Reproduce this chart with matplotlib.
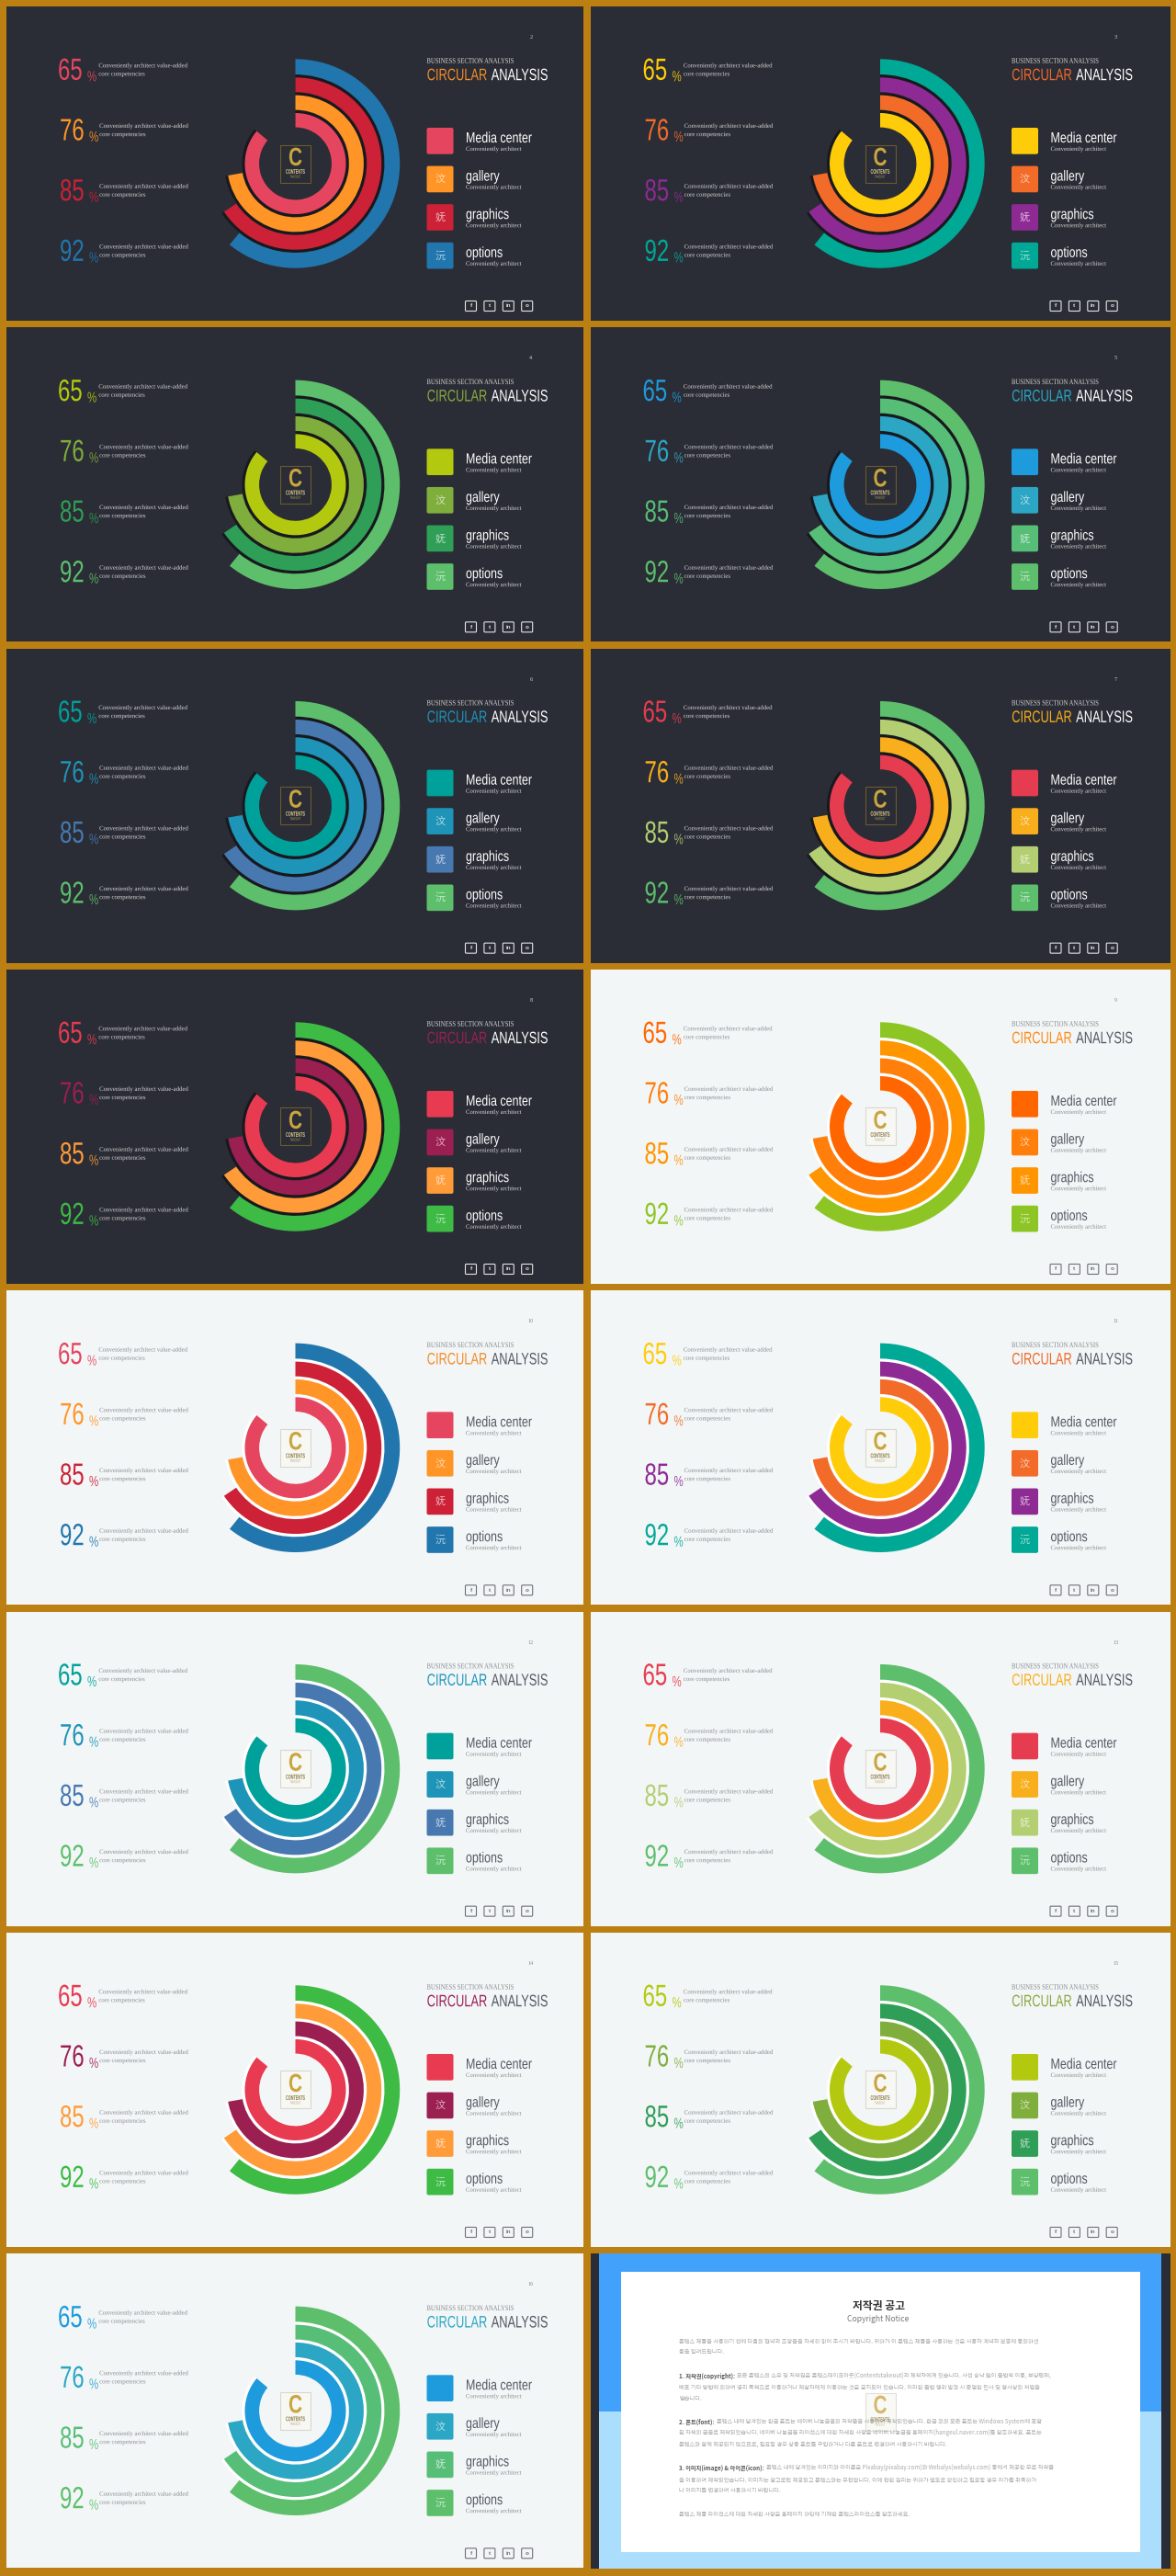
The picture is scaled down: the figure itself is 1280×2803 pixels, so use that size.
import numpy as np
import matplotlib
matplotlib.use('Agg')
import matplotlib.pyplot as plt
from matplotlib.patches import Rectangle, FancyBboxPatch
from matplotlib.patheffects import AbstractPathEffect
from matplotlib.transforms import Affine2D

# chart values
percents = [65, 76, 85, 92]
sweeps = [310, 260, 236, 219]  # degrees clockwise from 12 o'clock, inner ring first
legend_names = ['Media center', 'gallery', 'graphics', 'options']
legend_glyphs = ['', '汶', '妩', '沅']
socials = ['f', 't', 'in', 'o']

# palettes, inner ring first, then the colour of CIRCULAR
red_blue = ['#E5455F', '#FF9526', '#CC2136', '#2176AE', '#F28C28']
yellow_teal = ['#FFCC0A', '#F26B29', '#8E2A94', '#00A896', '#EE6A2A']
lime_green = ['#B3C90F', '#7FAE3C', '#2F9E56', '#5DBF6C', '#8AA83F']
blue_green = ['#1E9BDC', '#2BA6C4', '#57BE78', '#5DBF6C', '#2BA6C4']
teal_blue = ['#00A19B', '#1E94B8', '#4878B0', '#5DBF6C', '#1E94B8']
red_amber = ['#E63C50', '#F9AE1B', '#B3CF72', '#5DBF6C', '#F9AE1B']
red_crimson = ['#E83A50', '#9C1F52', '#FF9B38', '#3DBB45', '#9C1F52']
orange_lime = ['#FF6600', '#FF7F0A', '#FF9500', '#8CC524', '#FF8A14']

slide_palettes = [red_blue, yellow_teal, lime_green, blue_green, teal_blue, red_amber,
                  red_crimson, orange_lime, red_blue, yellow_teal, teal_blue, red_amber,
                  red_crimson, lime_green, blue_green]
slide_dark = [True] * 7 + [False] * 8
slide_pages = list(range(2, 17))

notice_lines = [
    '콘텐스 제품을 사용하기 전에 다음의 협약과 조항들을 자세히 읽어 주시기 바랍니다. 귀하가 이 콘텐스 제품을 사용하는 것은 사용자 계약과 보증에 동의하셨',
    '음을 알려드립니다.',
    '모든 콘텐스의 소유 및 저작권은 콘텐스테이크아웃(Contentstakeout)과 제작자에게 있습니다. 사전 승낙 없이 불법적 이용, 부당판매,',
    '배포 기타 방법에 의하여 영리 목적으로 이용하거나 제삼자에게 이용하는 것은 금지되어 있습니다. 이러한 불법 행위 발견 시 준엄한 민사 및 형사상의 처벌을',
    '받습니다.',
    '콘텐스 내에 담겨있는 한글 폰트는 네이버 나눔글꼴의 저작물을 사용하여 제작되었습니다. 한글 외의 모든 폰트는 Windows System에 포함',
    '된 자체의 글꼴로 제작되었습니다. 네이버 나눔글꼴 라이선스에 대한 자세한 사항은 네이버 나눔글꼴 홈페이지(hangeul.naver.com)를 참조하세요. 폰트는',
    '콘텐스와 함께 제공되지 않으므로, 필요할 경우 상용 폰트를 구입하거나 다른 폰트로 변경하여 사용하시기 바랍니다.',
    '콘텐스 내에 담겨있는 이미지와 아이콘은 Pixabay(pixabay.com)와 Webalys(webalys.com) 등에서 제공한 무료 저작물',
    '을 이용하여 제작되었습니다. 이미지는 참고로만 제공되고 콘텐스와는 무관합니다. 이에 관한 권리는 귀하가 별도로 확인하고 필요할 경우 허가를 취득하거',
    '나 이미지를 변경하여 사용하시기 바랍니다.',
    '콘텐스 제품 라이선스에 대한 자세한 사항은 홈페이지 하단에 기재한 콘텐스라이선스를 참조하세요.',
]
notice_bold = ['', '', '1. 저작권(copyright):', '', '', '2. 폰트(font):', '', '', '3. 이미지(image) & 아이콘(icon):', '', '', '']
notice_y = [2547, 2559, 2585, 2597, 2610, 2635, 2647, 2660, 2685, 2698, 2710, 2736]

# layout in pixels
W, H = 1280, 2803
GOLD = '#BC8012'
SLIDE_H = 342
COL_X = [6.5, 643]
COL_W = [628, 631]
ROW_PITCH = 349.33
RING_IN = [39.4, 58.4, 77.7, 97]
RING_OUT = [55, 74.4, 93.7, 113.7]
R_MAX = 120
SANS = 'Liberation Sans'
SERIF = 'Liberation Serif'
CJK = ['Noto Sans CJK SC', 'DejaVu Sans']
KR = ['Noto Sans CJK KR', 'DejaVu Sans']


# no narrow font installed, so squeeze the glyphs of left aligned text
class Squeeze(AbstractPathEffect):
    def __init__(self, sx):
        self.sx = sx

    def draw_path(self, renderer, gc, tpath, affine, rgbFace=None):
        renderer.draw_path(gc, tpath, Affine2D().scale(self.sx, 1) + affine, rgbFace)


fig = plt.figure(figsize=(W / 100, H / 100), dpi=100, facecolor=GOLD)
ax = fig.add_axes([0, 0, 1, 1])
ax.set_xlim(0, W)
ax.set_ylim(H, 0)
ax.axis('off')
renderer = fig.canvas.get_renderer()


def text_w(t):
    return t.get_window_extent(renderer).width


def label(x, y, s, sx=1.0, **kw):
    kw.setdefault('ha', 'left')
    kw.setdefault('va', 'center')
    kw.setdefault('family', SANS)
    return ax.text(x, y, s, path_effects=[Squeeze(sx)], **kw)


def draw_logo(cx, cy, dark, alpha=1.0):
    edge = '#6B5A2E' if dark else '#DAD6CC'
    face = 'none' if dark else '#F7F7F3'
    ax.add_patch(Rectangle((cx - 16.5, cy - 20.5), 33, 41, fc=face, ec=edge, lw=0.8, alpha=alpha))
    label(cx - 7.5, cy - 5, 'C', sx=0.75, color='#C9A53F', fontsize=20, weight='bold', alpha=alpha)
    label(cx - 10.5, cy + 9.5, 'CONTENTS', sx=0.55, color='#E0CE8E' if dark else '#8B7A45', fontsize=5,
          weight='bold', alpha=alpha)
    label(cx - 6, cy + 14.5, 'TAKEOUT', sx=0.6, color='#B9A35C' if dark else '#B5A67A', fontsize=3,
          alpha=alpha)


def draw_slide(x0, y0, width, colors, dark, page):
    bg = '#2B2D36' if dark else '#F3F6F7'
    head = '#FFFFFF' if dark else '#555963'
    small = '#D6D6D6' if dark else '#8A8C90'
    gap = '#18191E' if dark else '#FFFFFF'
    ax.add_patch(Rectangle((x0, y0), width, SLIDE_H, fc=bg, ec='none'))
    ax.text(x0 + 571.5, y0 + 33.5, str(page), color=small, fontsize=4.5, family=SERIF,
            ha='center', va='center')

    # left column, percentages
    for i, p in enumerate(percents):
        row_y = y0 + 70.3 + i * 65.7
        num_x = x0 + (56.5 if i == 0 else 58.5)
        label(num_x, row_y + 1, str(p), sx=0.72, color=colors[i], fontsize=24)
        label(num_x + 32, row_y + 6.5, '%', sx=0.72, color=colors[i], fontsize=11.5, alpha=0.85)
        desc_x = x0 + (100.8 if i == 0 else 101.6)
        label(desc_x, row_y - 5.5, 'Conveniently architect value-added', color=small, fontsize=4.9,
              family=SERIF)
        label(desc_x, row_y + 3.6, 'core competencies', color=small, fontsize=4.9, family=SERIF)

    # rings, one polar axes per slide
    cx, cy = x0 + 315, y0 + 171
    rax = fig.add_axes([(cx - R_MAX) / W, 1 - (cy + R_MAX) / H, 2 * R_MAX / W, 2 * R_MAX / H],
                       projection='polar')
    rax.set_theta_zero_location('N')
    rax.set_theta_direction(-1)
    rax.set_ylim(0, R_MAX)
    rax.axis('off')
    rax.patch.set_alpha(0)
    widths = np.radians(sweeps)
    for i in range(4):
        if i < 3:
            rax.bar(0, RING_OUT[i] + 3 - RING_IN[i], width=widths[i], bottom=RING_IN[i],
                    align='edge', color=gap, linewidth=0, zorder=1 + i * 2)
        rax.bar(0, RING_OUT[i] - RING_IN[i], width=widths[i], bottom=RING_IN[i],
                align='edge', color=colors[i], linewidth=0, zorder=2 + i * 2)
    draw_logo(cx, cy, dark)

    # title
    label(x0 + 458, y0 + 59.7, 'BUSINESS SECTION ANALYSIS', sx=0.8, color=small, fontsize=6, family=SERIF)
    label(x0 + 458.2, y0 + 75.7, 'CIRCULAR', sx=0.71, color=colors[4], fontsize=13)
    label(x0 + 528.2, y0 + 75.7, 'ANALYSIS', sx=0.71, color=head, fontsize=13)

    # legend
    for i, name in enumerate(legend_names):
        sq_y = y0 + 132 + i * 41.6
        ax.add_patch(FancyBboxPatch((x0 + 459, sq_y + 1), 27, 26.7, boxstyle='round,pad=1,rounding_size=2',
                                    fc=colors[i], ec='none'))
        if legend_glyphs[i]:
            ax.text(x0 + 472.5, sq_y + 14.5, legend_glyphs[i], color='white', alpha=0.65, fontsize=8,
                    family=CJK, ha='center', va='center')
        label(x0 + 500.5, sq_y + 11.5, name, sx=0.78, color=head, fontsize=11.5)
        label(x0 + 500.5, sq_y + 23.5, 'Conveniently architect', color=small, fontsize=4.8, family=SERIF)

    # social icons
    edge = '#E4E4E4' if dark else '#6E7076'
    for i, s in enumerate(socials):
        ix = x0 + 506 + i * 20.4
        iy = y0 + 326
        ax.add_patch(FancyBboxPatch((ix - 5, iy - 4.5), 10, 9, boxstyle='round,pad=1,rounding_size=1',
                                    fc='none', ec=edge, lw=0.8))
        ax.text(ix, iy, s, color=edge, fontsize=4.5, family=SANS, weight='bold', ha='center', va='center')


def draw_notice(x0, y0):
    ax.add_patch(Rectangle((x0, y0), 631, 343, fc='#2B2D36', ec='none'))
    ax.add_patch(Rectangle((x0 + 9, y0), 612, 172, fc='#42A1FA', ec='none'))
    ax.add_patch(Rectangle((x0 + 9, y0 + 172), 612, 171, fc='#ABDDFD', ec='none'))
    ax.add_patch(Rectangle((675.5, 2472), 565.5, 305, fc='white', ec='none'))
    ax.text(956, 2509, '저작권 공고', color='#333333', fontsize=8.5, family=KR, weight='bold',
            ha='center', va='center')
    ax.text(956, 2523, 'Copyright Notice', color='#777777', fontsize=6.2, family=KR,
            ha='center', va='center')
    for line, bold, y in zip(notice_lines, notice_bold, notice_y):
        x = 739
        if bold:
            b = ax.text(x, y, bold, color='#555555', fontsize=4.5, family=KR, weight='bold',
                        ha='left', va='center')
            x += text_w(b) + 2
        ax.text(x, y, line, color='#A8A8A8', fontsize=4.5, family=KR, ha='left', va='center')
    draw_logo(958, 2624, False, alpha=0.75)


for n in range(15):
    col = n % 2
    row = n // 2
    draw_slide(COL_X[col], 7 + row * ROW_PITCH, COL_W[col], slide_palettes[n], slide_dark[n], slide_pages[n])
draw_notice(643, 7 + 7 * ROW_PITCH)

fig.savefig('out.png', dpi=100, facecolor=GOLD)
